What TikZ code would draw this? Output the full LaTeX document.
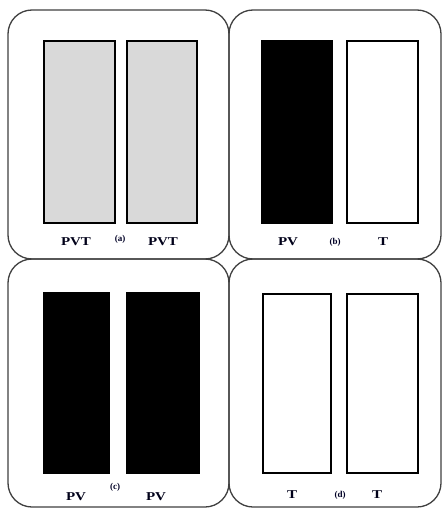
\documentclass[tikz,border=0pt]{standalone}
\usepackage{fontspec}
\setmainfont{Liberation Serif}
\begin{document}
\begin{tikzpicture}[x=1pt,y=-1pt,
  panel/.style={draw=black!75,line width=1.3pt,rounded corners=24pt},
  cell/.style={draw=black,line width=1.2pt},
  pvtcell/.style={cell,fill=black!15},
  pvcell/.style={cell,fill=black},
  tcell/.style={cell,fill=white},
  lab/.style={font=\fontsize{12}{13}\selectfont\bfseries,xscale=1.25,text=black!90!blue,inner sep=0pt},
  tag/.style={font=\fontsize{9}{10}\selectfont\bfseries,text=black!85!blue,inner sep=0pt}]
\useasboundingbox (0,0) rectangle (442,508);
\fill[white] (0,0) rectangle (442,508);
% panels
\draw[panel] (8,10) rectangle (229,259);
\draw[panel] (229,10) rectangle (441,259);
\draw[panel] (8,259) rectangle (229,507);
\draw[panel] (229,259) rectangle (441,507);
% (a)
\draw[pvtcell] (44,41) rectangle (115,223);
\draw[pvtcell] (127,41) rectangle (197,223);
\node[lab] (a1) at (76,242) {PVT};
\node[tag] (ta) at (120,239) {(a)};
\node[lab] (a2) at (163,242) {PVT};
% (b)
\draw[pvcell] (262,41) rectangle (332,223);
\draw[tcell] (347,41) rectangle (418,223);
\node[lab] (b1) at (288,242) {PV};
\node[tag] (tb) at (335,242) {(b)};
\node[lab] (b2) at (383,242) {T};
% (c)
\draw[pvcell] (44,293) rectangle (109,473);
\draw[pvcell] (127,293) rectangle (199,473);
\node[lab] (c1) at (76,497) {PV};
\node[tag] (tc) at (115,487) {(c)};
\node[lab] (c2) at (156,497) {PV};
% (d)
\draw[tcell] (263,294) rectangle (331,473);
\draw[tcell] (347,294) rectangle (418,473);
\node[lab] (d1) at (292,495) {T};
\node[tag] (td) at (340,495) {(d)};
\node[lab] (d2) at (377,495) {T};
\end{tikzpicture}
\end{document}
